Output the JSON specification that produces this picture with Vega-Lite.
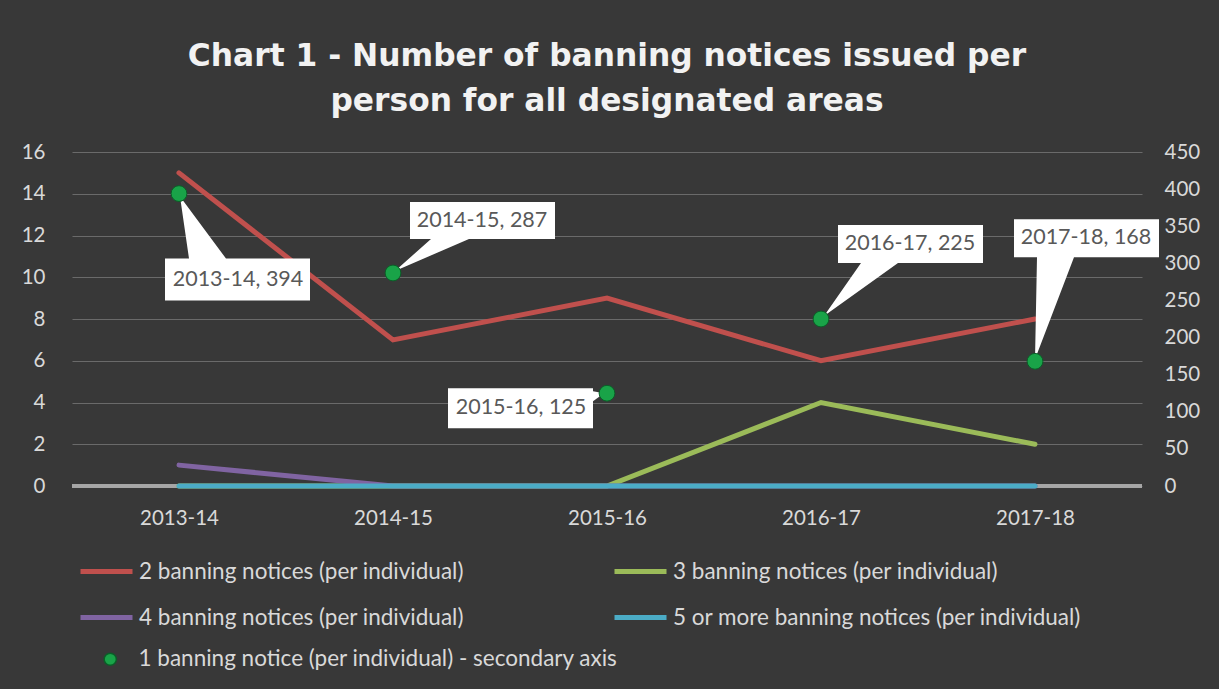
{
  "$schema": "https://vega.github.io/schema/vega-lite/v6.json",
  "width": 1070,
  "height": 334,
  "autosize": {"type": "none"},
  "padding": {"left": 72, "top": 152, "right": 77, "bottom": 203},
  "background": "#383838",
  "config": {"view": {"stroke": null}, "font": "Lato"},
  "title": {
    "text": ["Chart 1 - Number of banning notices issued per", "person for all designated areas"],
    "font": "DejaVu Sans",
    "fontSize": 31.3,
    "fontWeight": "bold",
    "color": "#f2f2f2",
    "anchor": "middle",
    "lineHeight": 45,
    "offset": 25
  },
  "datasets": {
    "lines": [
      {"year": "2013-14", "series": "2 banning notices (per individual)", "value": 15},
      {"year": "2014-15", "series": "2 banning notices (per individual)", "value": 7},
      {"year": "2015-16", "series": "2 banning notices (per individual)", "value": 9},
      {"year": "2016-17", "series": "2 banning notices (per individual)", "value": 6},
      {"year": "2017-18", "series": "2 banning notices (per individual)", "value": 8},
      {"year": "2013-14", "series": "3 banning notices (per individual)", "value": 0},
      {"year": "2014-15", "series": "3 banning notices (per individual)", "value": 0},
      {"year": "2015-16", "series": "3 banning notices (per individual)", "value": 0},
      {"year": "2016-17", "series": "3 banning notices (per individual)", "value": 4},
      {"year": "2017-18", "series": "3 banning notices (per individual)", "value": 2},
      {"year": "2013-14", "series": "4 banning notices (per individual)", "value": 1},
      {"year": "2014-15", "series": "4 banning notices (per individual)", "value": 0},
      {"year": "2015-16", "series": "4 banning notices (per individual)", "value": 0},
      {"year": "2016-17", "series": "4 banning notices (per individual)", "value": 0},
      {"year": "2017-18", "series": "4 banning notices (per individual)", "value": 0},
      {"year": "2013-14", "series": "5 or more banning notices (per individual)", "value": 0},
      {"year": "2014-15", "series": "5 or more banning notices (per individual)", "value": 0},
      {"year": "2015-16", "series": "5 or more banning notices (per individual)", "value": 0},
      {"year": "2016-17", "series": "5 or more banning notices (per individual)", "value": 0},
      {"year": "2017-18", "series": "5 or more banning notices (per individual)", "value": 0}
    ],
    "ones": [
      {"year": "2013-14", "value": 394},
      {"year": "2014-15", "value": 287},
      {"year": "2015-16", "value": 125},
      {"year": "2016-17", "value": 225},
      {"year": "2017-18", "value": 168}
    ]
  },
  "layer": [
    {
      "data": {"name": "lines"},
      "layer": [
        {
          "mark": {"type": "rule", "color": "#a6a6a6", "strokeWidth": 3},
          "encoding": {"y": {"datum": 0, "type": "quantitative"}}
        },
        {
          "mark": {"type": "line", "strokeWidth": 5, "strokeCap": "round"},
          "encoding": {
            "x": {
              "field": "year", "type": "ordinal",
              "scale": {"type": "point", "padding": 0.5, "domain": ["2013-14", "2014-15", "2015-16", "2016-17", "2017-18"]},
              "axis": {"title": null, "domain": false, "ticks": false, "labelAngle": 0, "labelFontSize": 20.5, "labelColor": "#d9d9d9", "labelPadding": 22}
            },
            "y": {
              "field": "value", "type": "quantitative",
              "scale": {"domain": [0, 16], "nice": false},
              "axis": {"title": null, "values": [0, 2, 4, 6, 8, 10, 12, 14, 16], "labelOverlap": false, "domain": false, "ticks": false, "labelFontSize": 20.5, "labelColor": "#d9d9d9", "labelPadding": 27, "grid": true, "gridColor": "#6a6a6a", "gridWidth": 1}
            },
            "stroke": {
              "field": "series", "type": "nominal",
              "scale": {
                "domain": ["2 banning notices (per individual)", "3 banning notices (per individual)", "4 banning notices (per individual)", "5 or more banning notices (per individual)"],
                "range": ["#c0504d", "#9bbb59", "#8064a2", "#4bacc6"]
              },
              "legend": {
                "title": null, "orient": "none", "legendX": 6, "legendY": 391, "direction": "horizontal",
                "columns": 2, "symbolType": "stroke", "symbolSize": 2704, "symbolStrokeWidth": 5,
                "labelFontSize": 22.5, "labelColor": "#d9d9d9", "labelOffset": 4, "labelLimit": 600,
                "columnPadding": 140, "rowPadding": 6, "padding": 0
              }
            }
          }
        }
      ]
    },
    {
      "data": {"name": "ones"},
      "transform": [{"calculate": "datum.year + ', ' + datum.value", "as": "label"}],
      "encoding": {
        "x": {"field": "year", "type": "ordinal"},
        "y": {"field": "value", "type": "quantitative", "scale": {"domain": [0, 450], "nice": false},
          "axis": {"title": null, "orient": "right", "values": [0, 50, 100, 150, 200, 250, 300, 350, 400, 450], "labelOverlap": false, "domain": false, "ticks": false, "grid": false, "labelFontSize": 20.5, "labelColor": "#d9d9d9", "labelPadding": 22}}
      },
      "layer": [
        {
          "mark": {"type": "point", "filled": true, "fill": "white", "opacity": 1, "strokeWidth": 0, "size": 4},
          "encoding": {
            "shape": {
              "field": "year", "type": "nominal", "legend": null,
              "scale": {
                "domain": ["2013-14", "2014-15", "2015-16", "2016-17", "2017-18"],
                "range": [
                  "M -14 65 L 10 65 L 1 3 L 47 65 L 131 65 L 131 107 L -14 107 Z",
                  "M 17 -71 L 162 -71 L 162 -34 L 76 -34 L 2 -2 L 38 -34 L 17 -34 Z",
                  "M -159 -5 L -14 -5 L -14 -2 L -3 0 L -14 8 L -14 35 L -159 35 Z",
                  "M 17 -94 L 162 -94 L 162 -56 L 77 -56 L 3 -3 L 40 -56 L 17 -56 Z",
                  "M -21 -142 L 124 -142 L 124 -104 L 39 -104 L 0 -2 L 2 -104 L -21 -104 Z"
                ]
              }
            }
          }
        },
        {
          "mark": {"type": "point", "filled": true, "opacity": 1, "size": 250, "stroke": "#0b5e28", "strokeWidth": 1},
          "encoding": {
            "fill": {
              "datum": "1 banning notice (per individual) - secondary axis",
              "scale": {"range": ["#19a348"]},
              "legend": {
                "title": null, "orient": "none", "legendX": 27, "legendY": 496,
                "symbolSize": 150, "symbolType": "circle", "labelFontSize": 22.5, "labelColor": "#d9d9d9",
                "labelOffset": 17, "labelLimit": 600, "padding": 0
              }
            }
          }
        },
        {
          "transform": [{"filter": "datum.year == '2013-14'"}],
          "mark": {"type": "text", "dx": 59, "dy": 86, "fontSize": 21.5, "color": "#595959", "align": "center", "baseline": "middle"},
          "encoding": {"text": {"field": "label"}}
        },
        {
          "transform": [{"filter": "datum.year == '2014-15'"}],
          "mark": {"type": "text", "dx": 89, "dy": -52, "fontSize": 21.5, "color": "#595959", "align": "center", "baseline": "middle"},
          "encoding": {"text": {"field": "label"}}
        },
        {
          "transform": [{"filter": "datum.year == '2015-16'"}],
          "mark": {"type": "text", "dx": -86, "dy": 15, "fontSize": 21.5, "color": "#595959", "align": "center", "baseline": "middle"},
          "encoding": {"text": {"field": "label"}}
        },
        {
          "transform": [{"filter": "datum.year == '2016-17'"}],
          "mark": {"type": "text", "dx": 89, "dy": -75, "fontSize": 21.5, "color": "#595959", "align": "center", "baseline": "middle"},
          "encoding": {"text": {"field": "label"}}
        },
        {
          "transform": [{"filter": "datum.year == '2017-18'"}],
          "mark": {"type": "text", "dx": 51, "dy": -123, "fontSize": 21.5, "color": "#595959", "align": "center", "baseline": "middle"},
          "encoding": {"text": {"field": "label"}}
        }
      ]
    }
  ],
  "resolve": {"scale": {"y": "independent"}}
}
